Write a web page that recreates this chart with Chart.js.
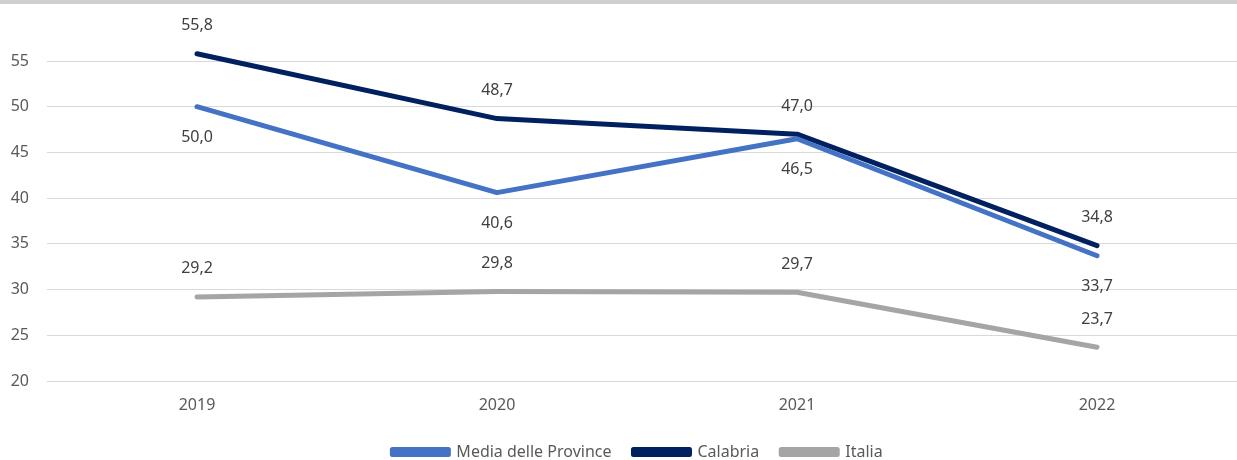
<!DOCTYPE html>
<html>
<head>
<meta charset="utf-8">
<script src="https://cdn.jsdelivr.net/npm/chart.js@4.4.1/dist/chart.umd.min.js"></script>
<style>
  html, body { margin: 0; padding: 0; background: #fff; overflow: hidden; }
  #wrap { position: absolute; left: 0; top: 0; width: 1250px; height: 460px; }
  #topbar { position: absolute; left: 0; top: 0; width: 1237px; height: 4px; background: #d0cece; z-index: 2; }
</style>
</head>
<body>
<div id="topbar"></div>
<div id="wrap"><canvas id="chart"></canvas></div>
<script>
// Dati del grafico
const anni = ['2019', '2020', '2021', '2022'];
const mediaProvince = [50.0, 40.6, 46.5, 33.7];
const calabria = [55.8, 48.7, 47.0, 34.8];
const italia = [29.2, 29.8, 29.7, 23.7];

const FONT = '"Noto Sans", "Open Sans", sans-serif';
const PLOT_BOTTOM = 381;

/**
 * Disegna le etichette dei valori sopra o sotto i punti.
 */
const valueLabels = {
    id: 'valueLabels',
    afterDatasetsDraw(chart) {
        const ctx = chart.ctx;
        ctx.save();
        ctx.font = '16px ' + FONT;
        ctx.fillStyle = '#404040';
        ctx.textAlign = 'center';
        ctx.textBaseline = 'middle';
        chart.data.datasets.forEach((ds, i) => {
            const meta = chart.getDatasetMeta(i);
            meta.data.forEach((pt, j) => {
                const txt = ds.data[j].toFixed(1).replace('.', ',');
                ctx.fillText(txt, pt.x, pt.y + ds.labelOffset);
            });
        });
        ctx.restore();
    }
};

/**
 * Sposta la legenda nella posizione del grafico originale.
 */
const legendShift = {
    id: 'legendShift',
    afterLayout(chart) {
        const lg = chart.legend;
        if (!lg) return;
        const dy = 422 - lg.top;
        lg.top += dy;
        lg.bottom += dy;
        lg.left += 14;
        lg.right += 14;
    }
};

new Chart(document.getElementById('chart'), {
    type: 'line',
    data: {
        labels: anni,
        datasets: [
            {
                label: 'Media delle Province',
                data: mediaProvince,
                borderColor: '#4472c4',
                backgroundColor: '#4472c4',
                labelOffset: 31
            },
            {
                label: 'Calabria',
                data: calabria,
                borderColor: '#002060',
                backgroundColor: '#002060',
                labelOffset: -28
            },
            {
                label: 'Italia',
                data: italia,
                borderColor: '#a5a5a5',
                backgroundColor: '#a5a5a5',
                labelOffset: -28
            }
        ]
    },
    options: {
        responsive: true,
        maintainAspectRatio: false,
        animation: false,
        clip: false,
        elements: {
            line: { borderWidth: 5, borderCapStyle: 'round', borderJoinStyle: 'round', tension: 0 },
            point: { radius: 0, hoverRadius: 0 }
        },
        layout: { padding: { top: 61, right: 3, left: 0, bottom: 0 } },
        plugins: {
            legend: {
                position: 'bottom',
                maxHeight: 36,
                labels: {
                    font: { family: FONT, size: 16 },
                    color: '#595959',
                    boxWidth: 56,
                    boxHeight: 5,
                    padding: 22
                }
            },
            tooltip: { enabled: false }
        },
        scales: {
            x: {
                offset: true,
                grid: { display: false },
                border: { display: false },
                ticks: { font: { family: FONT, size: 16 }, color: '#595959', padding: 7 },
                afterFit(scale) {
                    const lh = scale.chart.legend ? scale.chart.legend.height : 0;
                    scale.height = scale.chart.height - PLOT_BOTTOM - lh;
                }
            },
            y: {
                min: 20,
                max: 55,
                ticks: { stepSize: 5, font: { family: FONT, size: 16 }, color: '#595959', padding: 18 },
                grid: { color: '#d9d9d9', drawTicks: false },
                border: { display: false },
                afterFit(scale) { scale.width = 47; }
            }
        }
    },
    plugins: [valueLabels, legendShift]
});
</script>
</body>
</html>
